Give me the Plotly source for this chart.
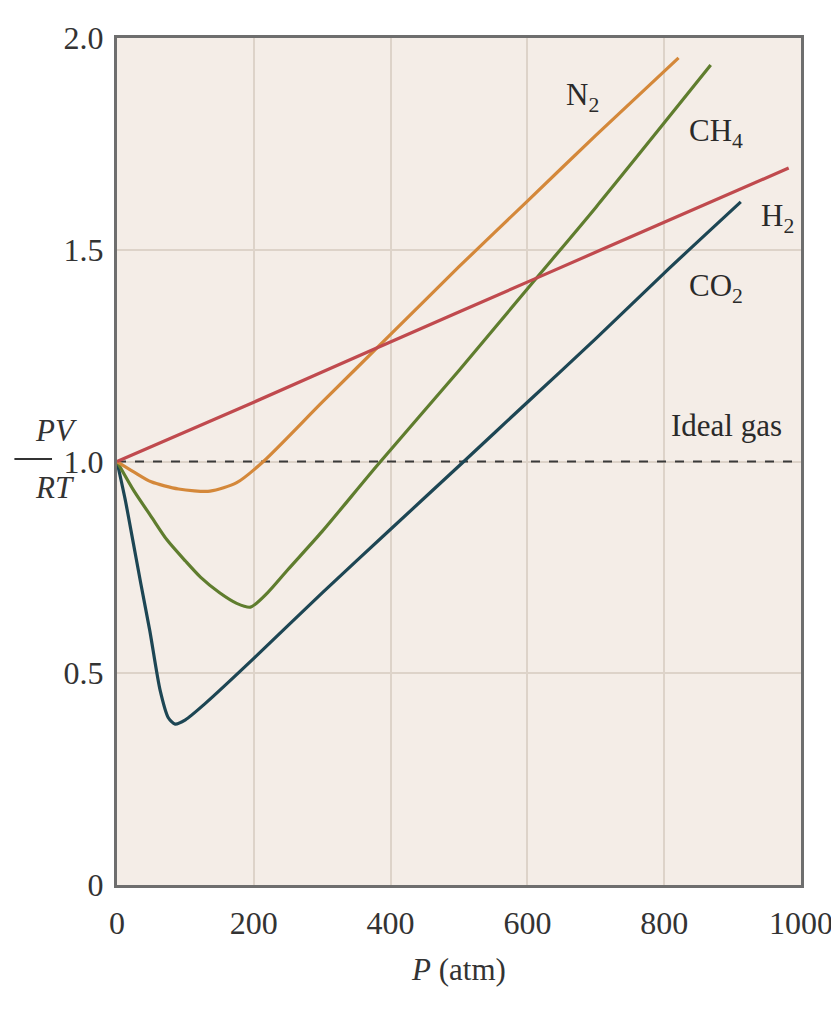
import plotly.graph_objects as go

# Data
p_n2 = [0, 25, 50, 90, 136, 175, 214, 300, 400, 500, 600, 700, 821]
v_n2 = [1.0, 0.975, 0.952, 0.935, 0.93, 0.95, 1.0, 1.14, 1.30, 1.46, 1.615, 1.77, 1.953]

p_ch4 = [0, 25, 50, 73, 100, 122, 150, 175, 195, 220, 250, 300, 380, 500, 609, 700, 868]
v_ch4 = [1.0, 0.93, 0.87, 0.815, 0.765, 0.727, 0.69, 0.665, 0.656, 0.69, 0.745, 0.835, 0.99, 1.215, 1.425, 1.6, 1.936]

p_h2 = [0, 200, 378, 609, 800, 982]
v_h2 = [1.0, 1.14, 1.267, 1.43, 1.565, 1.693]

p_co2 = [0, 12, 23, 35, 48, 63, 75, 85, 100, 130, 200, 300, 400, 507, 600, 700, 800, 912]
v_co2 = [1.0, 0.91, 0.815, 0.71, 0.6, 0.46, 0.395, 0.38, 0.39, 0.43, 0.535, 0.69, 0.84, 1.0, 1.14, 1.29, 1.445, 1.613]

p_ideal = [0, 1000]
v_ideal = [1.0, 1.0]

x_ticks = [0, 200, 400, 600, 800, 1000]
y_ticks = [0, 0.5, 1.0, 1.5, 2.0]
y_tick_labels = ["0", "0.5", "1.0", "1.5", "2.0"]

labels = ["N<sub>2</sub>", "CH<sub>4</sub>", "H<sub>2</sub>", "CO<sub>2</sub>", "Ideal gas"]
label_p = [681, 875, 966, 875, 891]
label_v = [1.86, 1.776, 1.575, 1.41, 1.086]

FONT = "Liberation Serif"
TXT = "#333333"

fig = go.Figure()

fig.add_trace(go.Scatter(x=p_ideal, y=v_ideal, mode="lines",
                         line=dict(color="#3a3a3a", width=2, dash="dash"),
                         hoverinfo="skip", showlegend=False))
fig.add_trace(go.Scatter(x=p_co2, y=v_co2, mode="lines",
                         line=dict(color="#1d4654", width=3.2, shape="spline", smoothing=0.7),
                         showlegend=False))
fig.add_trace(go.Scatter(x=p_ch4, y=v_ch4, mode="lines",
                         line=dict(color="#5f7d2e", width=3.2, shape="spline", smoothing=0.7),
                         showlegend=False))
fig.add_trace(go.Scatter(x=p_n2, y=v_n2, mode="lines",
                         line=dict(color="#d4883a", width=3.2, shape="spline", smoothing=0.7),
                         showlegend=False))
fig.add_trace(go.Scatter(x=p_h2, y=v_h2, mode="lines",
                         line=dict(color="#c04a4e", width=3.2, shape="spline", smoothing=0.7),
                         showlegend=False))

for t, x, y in zip(labels, label_p, label_v):
    fig.add_annotation(x=x, y=y, xref="x", yref="y", text=t, showarrow=False,
                       font=dict(family=FONT, size=31, color="#2a2a2a"))

# y axis title as a fraction PV / RT
fig.add_annotation(x=-0.123, y=0.537, xref="paper", yref="paper", text="<i>PV</i>",
                   showarrow=False, font=dict(family=FONT, size=31, color=TXT))
fig.add_annotation(x=-0.123, y=0.469, xref="paper", yref="paper", text="<i>RT</i>",
                   showarrow=False, font=dict(family=FONT, size=31, color=TXT))
fig.add_shape(type="line", xref="paper", yref="paper", x0=-0.150, x1=-0.095,
              y0=0.503, y1=0.503, line=dict(color=TXT, width=2))

fig.update_layout(
    width=831, height=1005,
    margin=dict(l=109, r=38, t=30, b=128),
    paper_bgcolor="white",
    plot_bgcolor="#f4ede7",
    font=dict(family=FONT, size=32, color=TXT),
    xaxis=dict(range=[0, 1000], tickvals=x_ticks, ticks="", showgrid=True,
               gridcolor="#ddd3c9", gridwidth=2, zeroline=False, automargin=False,
               showline=True, linecolor="#6e6e6e", linewidth=3, mirror=True,
               ticklabelstandoff=8,
               title=dict(text="<i>P</i> (atm)", standoff=18,
                          font=dict(family=FONT, size=31, color=TXT)),
               tickfont=dict(family=FONT, size=32, color=TXT)),
    yaxis=dict(range=[0, 2.0], tickvals=y_ticks, ticktext=y_tick_labels, ticks="",
               showgrid=True, gridcolor="#ddd3c9", gridwidth=2, zeroline=False, automargin=False,
               showline=True, linecolor="#6e6e6e", linewidth=3, mirror=True,
               ticklabelstandoff=4,
               tickfont=dict(family=FONT, size=32, color=TXT)),
)

fig.write_html("out.html")
